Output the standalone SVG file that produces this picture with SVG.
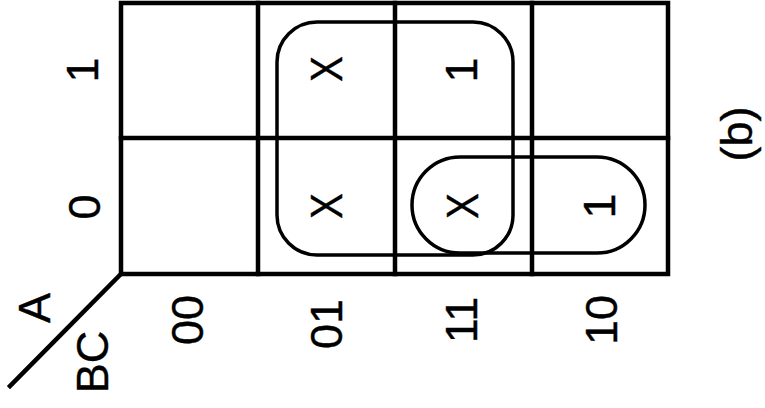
<svg xmlns="http://www.w3.org/2000/svg" width="765" height="408" viewBox="0 0 765 408">
<style>
.g{fill:none;stroke:#000;stroke-width:4.5;stroke-linecap:square}
.loop{fill:none;stroke:#000;stroke-width:3.5}
text{font-family:"Liberation Sans",Arial,sans-serif;font-size:45px;fill:#000;stroke:#000;stroke-width:0.4;text-anchor:middle}
</style>
<rect width="765" height="408" fill="#fff"/>
<g id="grid">
<rect class="g" x="121" y="3" width="547" height="271"/>
<line class="g" x1="258" y1="3" x2="258" y2="274"/>
<line class="g" x1="395" y1="3" x2="395" y2="274"/>
<line class="g" x1="532" y1="3" x2="532" y2="274"/>
<line class="g" x1="121" y1="138" x2="668" y2="138"/>
<line class="g" x1="121" y1="274" x2="10" y2="386"/>
</g>
<g id="labels">
<text transform="translate(50,308) rotate(-90)">A</text>
<text transform="translate(108,362) rotate(-90)">BC</text>
<text transform="translate(98,70) rotate(-90)">1</text>
<text transform="translate(100,207) rotate(-90)">0</text>
<text transform="translate(203,320) rotate(-90)">00</text>
<text transform="translate(342,324) rotate(-90)">01</text>
<text transform="translate(477,320) rotate(-90)">11</text>
<text transform="translate(617,320) rotate(-90)">10</text>
<text transform="translate(752,134) rotate(-90)">(b)</text>
</g>
<g id="cells">
<text transform="translate(342,69) rotate(-90) scale(0.85,1)">X</text>
<text transform="translate(342,206) rotate(-90) scale(0.85,1)">X</text>
<text transform="translate(478,206) rotate(-90) scale(0.85,1)">X</text>
<text transform="translate(477,70) rotate(-90)">1</text>
<text transform="translate(615,206) rotate(-90)">1</text>
</g>
<g id="loops">
<rect id="group1" class="loop" x="277" y="22" width="236" height="233" rx="40" ry="40"/>
<rect id="group2" class="loop" x="412" y="157" width="233" height="96" rx="48" ry="48"/>
</g>
</svg>
